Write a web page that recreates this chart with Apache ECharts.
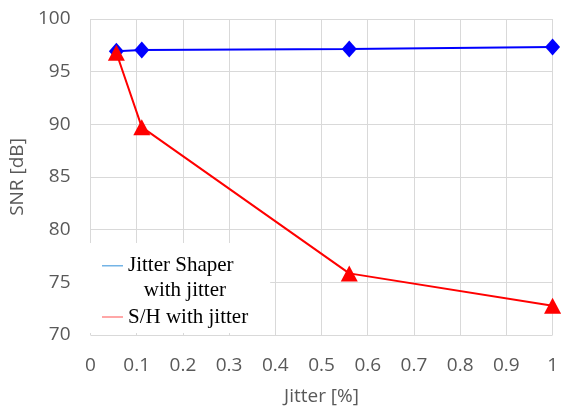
<!DOCTYPE html>
<html>
<head>
<meta charset="utf-8">
<script src="https://cdn.jsdelivr.net/npm/echarts@6/dist/echarts.min.js"></script>
<style>
html,body{margin:0;padding:0;background:#fff;}
#chart{width:561px;height:411px;}
</style>
</head>
<body>
<div id="chart"></div>
<script>
// Data
var jitterX = [0.056, 0.111, 0.56, 1.0];
var shaperSNR = [96.94, 97.05, 97.16, 97.33];
var shSNR = [96.8, 89.73, 75.85, 72.78];
var seriesNames = ['Jitter Shaper\n   with jitter', 'S/H with jitter'];
var xTitle = 'Jitter [%]';
var yTitle = 'SNR [dB]';

function pairs(xs, ys) { return xs.map(function (x, i) { return [x, ys[i]]; }); }

var chart = echarts.init(document.getElementById('chart'), null, {renderer: 'canvas'});
var axisFont = {color: '#595959', fontFamily: 'Open Sans', fontSize: 19};

chart.setOption({
  animation: false,
  backgroundColor: '#ffffff',
  grid: {left: 88, right: 5, top: 19, bottom: 71, containLabel: false},
  xAxis: {
    type: 'value', min: 0, max: 1, interval: 0.1,
    name: xTitle, nameLocation: 'middle', nameGap: 52,
    nameTextStyle: axisFont,
    axisLine: {show: false}, axisTick: {show: false},
    axisLabel: Object.assign({margin: 21}, axisFont),
    splitLine: {show: true, lineStyle: {color: '#d9d9d9', width: 1}}
  },
  yAxis: {
    type: 'value', min: 70, max: 100, interval: 5,
    name: yTitle, nameLocation: 'middle', nameGap: 56,
    nameTextStyle: axisFont,
    axisLine: {show: false}, axisTick: {show: false},
    axisLabel: Object.assign({margin: 20}, axisFont),
    splitLine: {show: true, lineStyle: {color: '#d9d9d9', width: 1}}
  },
  legend: {
    left: 89, top: 243, orient: 'vertical',
    backgroundColor: '#ffffff',
    padding: [10, 22, 3, 13],
    itemWidth: 21, itemHeight: 26, itemGap: 1,
    textStyle: {fontFamily: 'Liberation Serif', fontSize: 21, color: '#000000', lineHeight: 25, padding: [0, 0, 0, 0]},
    data: [
      {name: seriesNames[0], icon: 'path://M0,0H21V1.5H0Z M0,26h0.01v0.01Z',
       itemStyle: {color: '#74b4e6', borderWidth: 0}},
      {name: seriesNames[1], icon: 'path://M0,0h0.01v0.01Z M0,12.25H21V13.75H0Z M0,26h0.01v0.01Z',
       itemStyle: {color: '#ff8a8a', borderWidth: 0}}
    ]
  },
  series: [
    {
      name: seriesNames[0], type: 'line', data: pairs(jitterX, shaperSNR),
      symbol: 'diamond', symbolSize: [15, 17],
      lineStyle: {color: '#0000ff', width: 2},
      itemStyle: {color: '#0000ff', borderWidth: 0}
    },
    {
      name: seriesNames[1], type: 'line', data: pairs(jitterX, shSNR),
      symbol: 'triangle', symbolSize: [17, 16],
      lineStyle: {color: '#ff0000', width: 2},
      itemStyle: {color: '#ff0000', borderWidth: 0}
    }
  ]
});
</script>
</body>
</html>
